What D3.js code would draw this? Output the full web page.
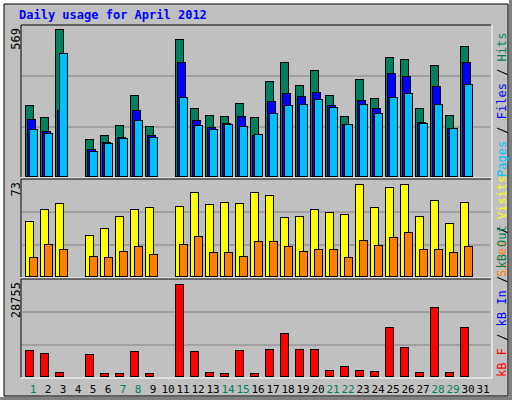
<!DOCTYPE html>
<html>
<head>
<meta charset="utf-8">
<script src="https://cdn.jsdelivr.net/npm/d3@7"></script>
<style>
body { margin: 0; background: #c0c0c0; }
text { font-family: "DejaVu Sans Mono", monospace; }
</style>
</head>
<body>
<script>
// data (0 = no data for that day)
var days = d3.range(1, 32);
var weekend = [1, 7, 8, 14, 15, 21, 22, 28, 29];
var hits  = [275,228,569,0,143,159,197,313,194,0,530,263,236,232,283,228,368,441,352,410,313,232,375,302,461,453,263,430,236,503,0];
var files = [221,174,255,0,105,132,151,255,159,0,441,217,190,205,232,159,290,321,310,325,275,201,294,263,399,387,209,348,186,441,0];
var pages = [182,166,476,0,97,130,147,217,151,0,306,197,182,201,194,163,244,275,279,298,267,201,279,244,306,321,205,279,186,356,0];
var visits = [44,53,58,0,33,38,48,53,55,0,56,67,57,59,58,67,64,47,48,53,51,49,73,55,71,73,48,60,42,59,0];
var sites  = [15,26,22,0,16,15,20,24,18,0,26,32,19,19,16,28,28,24,20,22,22,15,29,25,31,35,22,22,19,24,0];
var kbytes = [8345,7400,1470,0,7100,1150,1150,8030,1150,0,28755,8030,1470,1150,8345,1150,8650,13660,8650,8650,2090,3340,2090,1780,15530,9280,1470,21470,1470,15530,0];

var svg = d3.select("body").append("svg").attr("width", 512).attr("height", 400);

// outer bevel
svg.append("rect").attr("width", 512).attr("height", 400).attr("fill", "#c0c0c0");
svg.append("path").attr("d", "M0,400V0H512").attr("stroke", "#ffffff").attr("stroke-width", 8).attr("fill", "none");
svg.append("path").attr("d", "M0,400H512V0").attr("stroke", "#808080").attr("stroke-width", 6).attr("fill", "none");
svg.append("path").attr("d", "M4,396V4H508V396Z").attr("stroke", "#000").attr("stroke-width", 1).attr("fill", "none");

svg.append("text").attr("x", 19).attr("y", 19)
    .style("font-size", "12px").style("font-weight", "bold").attr("fill", "#0000ff")
    .text("Daily usage for April 2012");

var x = d3.scaleLinear().domain([1, 32]).range([25, 490]);

var panels = [
  {top: 26, bottom: 177, maxY: 29, max: d3.max(hits), label: "569"},
  {top: 180, bottom: 277, maxY: 184, max: d3.max(visits), label: "73"},
  {top: 280, bottom: 377, maxY: 284, max: d3.max(kbytes), label: "28755"}
];

panels.forEach(function(p) {
  var g = svg.append("g");
  g.append("path").attr("d", "M21," + p.bottom + "V" + (p.top - 1) + "H491")
      .attr("stroke", "#000").attr("fill", "none");
  g.append("path").attr("d", "M21," + (p.bottom + 1) + "H492V" + (p.top - 1))
      .attr("stroke", "#fff").attr("fill", "none");
  var h = p.bottom - p.top;
  [1, 2].forEach(function(k) {
    g.append("line").attr("x1", 22).attr("x2", 490)
      .attr("y1", p.bottom - Math.round(h * k / 3)).attr("y2", p.bottom - Math.round(h * k / 3))
      .attr("stroke", "#808080");
  });
  p.y = d3.scaleLinear().domain([0, p.max]).range([p.bottom - 0.5, p.maxY]);
  svg.append("text").attr("transform", "translate(20," + (p.top + 2) + ") rotate(-90)")
    .attr("text-anchor", "end").style("font-size", "12px").attr("fill", "#000")
    .text(p.label);
});

function bars(vals, p, off, color) {
  svg.append("g").selectAll("rect").data(vals).enter()
    .filter(function(d) { return d > 0; })
    .append("rect")
    .attr("x", function(d, i) { return x(i + 1) + off + 0.5; })
    .attr("y", function(d) { return Math.round(p.y(d)) + 0.5; })
    .attr("width", 8)
    .attr("height", function(d) { return p.bottom - 1 - Math.round(p.y(d)); })
    .attr("fill", color).attr("stroke", "#000").attr("stroke-width", 1);
}
// redo filter-friendly: enter+filter keeps indices
function drawBars(vals, p, off, color) {
  svg.append("g").selectAll("rect")
    .data(vals.map(function(v, i) { return {v: v, d: i + 1}; }).filter(function(o) { return o.v > 0; }))
    .enter().append("rect")
    .attr("x", function(o) { return x(o.d) + off + 0.5; })
    .attr("y", function(o) { return Math.round(p.y(o.v)) + 0.5; })
    .attr("width", 8)
    .attr("height", function(o) { return p.bottom - 1 - Math.round(p.y(o.v)); })
    .attr("fill", color).attr("stroke", "#000");
}

drawBars(hits, panels[0], 0, "#00805c");
drawBars(files, panels[0], 2, "#0000ff");
drawBars(pages, panels[0], 4, "#00c0ff");
drawBars(visits, panels[1], 0, "#ffff00");
drawBars(sites, panels[1], 4, "#ff8000");
drawBars(kbytes, panels[2], 0, "#ff0000");

// day labels
svg.append("g").selectAll("text").data(days).enter().append("text")
  .attr("x", function(d) { return x(d) + 8; })
  .attr("y", 393)
  .attr("text-anchor", "middle")
  .style("font-size", "11px")
  .attr("fill", function(d) { return weekend.indexOf(d) >= 0 ? "#00805c" : "#000"; })
  .text(function(d) { return d; });

// right-side legends (read bottom to top)
function legend(parts, yBottom) {
  var t = svg.append("text").attr("transform", "translate(506," + yBottom + ") rotate(-90)")
    .style("font-size", "12px");
  parts.forEach(function(pt) {
    t.append("tspan").attr("fill", pt[1]).text(pt[0]);
  });
}
legend([["Pages", "#00c0ff"], [" / ", "#000"], ["Files", "#0000ff"], [" / ", "#000"], ["Hits", "#00805c"]], 177);
legend([["Sites", "#ff8000"], [" / ", "#000"], ["Visits", "#ffff00"]], 277);
legend([["kB F", "#ff0000"], [" / ", "#000"], ["kB In", "#0000ff"], [" / ", "#000"], ["kB Out", "#00805c"]], 377);
</script>
</body>
</html>
